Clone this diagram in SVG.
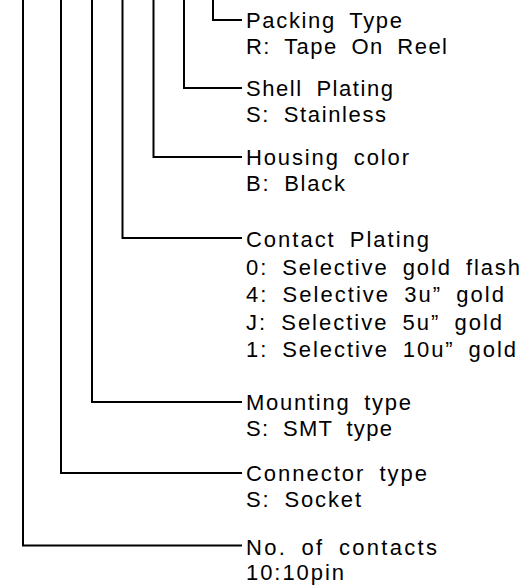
<svg xmlns="http://www.w3.org/2000/svg" width="529" height="588" viewBox="0 0 529 588">
<style>
  .bg { fill: #ffffff; }
  .conn { fill: none; stroke: #000000; stroke-width: 2; stroke-linejoin: miter; }
  .lbl { font-family: "Liberation Sans", Arial, sans-serif; font-size: 22px; fill: #000000; word-spacing: 6px; }
</style>
<rect class="bg" x="0" y="0" width="529" height="588"/>
<g id="connectors">
  <path class="conn" d="M213,0 V20 H242"/>
  <path class="conn" d="M184,0 V88 H242"/>
  <path class="conn" d="M153.5,0 V157 H242"/>
  <path class="conn" d="M122.5,0 V238 H242"/>
  <path class="conn" d="M92,0 V402 H242"/>
  <path class="conn" d="M61,0 V473 H242"/>
  <path class="conn" d="M23,0 V545.5 H242"/>
</g>
<g id="packing-type">
  <text class="lbl" x="246" y="28" textLength="156" lengthAdjust="spacing">Packing Type</text>
  <text class="lbl" x="246" y="54" textLength="201" lengthAdjust="spacing">R: Tape On Reel</text>
</g>
<g id="shell-plating">
  <text class="lbl" x="246" y="96" textLength="147" lengthAdjust="spacing">Shell Plating</text>
  <text class="lbl" x="246" y="122" textLength="140" lengthAdjust="spacing">S: Stainless</text>
</g>
<g id="housing-color">
  <text class="lbl" x="246" y="165" textLength="163" lengthAdjust="spacing">Housing color</text>
  <text class="lbl" x="246" y="191" textLength="99" lengthAdjust="spacing">B: Black</text>
</g>
<g id="contact-plating">
  <text class="lbl" x="246" y="247" textLength="183" lengthAdjust="spacing">Contact Plating</text>
  <text class="lbl" x="246" y="274.5" textLength="274" lengthAdjust="spacing">0: Selective gold flash</text>
  <text class="lbl" x="246" y="302" textLength="258" lengthAdjust="spacing">4: Selective 3u” gold</text>
  <text class="lbl" x="246" y="329.5" textLength="256" lengthAdjust="spacing">J: Selective 5u” gold</text>
  <text class="lbl" x="246" y="357" textLength="270" lengthAdjust="spacing">1: Selective 10u” gold</text>
</g>
<g id="mounting-type">
  <text class="lbl" x="246" y="410" textLength="165" lengthAdjust="spacing">Mounting type</text>
  <text class="lbl" x="246" y="436" textLength="146" lengthAdjust="spacing">S: SMT type</text>
</g>
<g id="connector-type">
  <text class="lbl" x="246" y="481" textLength="181" lengthAdjust="spacing">Connector type</text>
  <text class="lbl" x="246" y="507" textLength="115" lengthAdjust="spacing">S: Socket</text>
</g>
<g id="no-of-contacts">
  <text class="lbl" x="246" y="554.5" textLength="191" lengthAdjust="spacing">No. of contacts</text>
  <text class="lbl" x="246" y="580" textLength="98" lengthAdjust="spacing">10:10pin</text>
</g>
</svg>
